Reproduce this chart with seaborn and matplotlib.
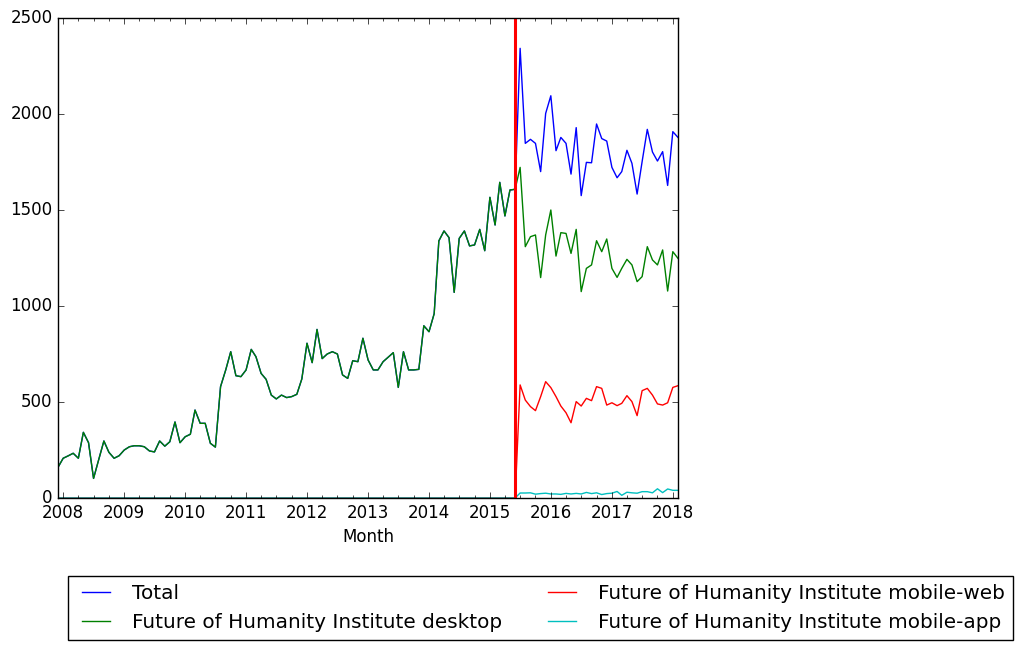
import matplotlib
matplotlib.use("Agg")
import matplotlib.pyplot as plt
import matplotlib.dates as mdates
import numpy as np
import pandas as pd
import seaborn as sns

# ---- data (monthly page views, 2007-12 .. 2018-02) ----
start_month = "2007-12"
split_month = "2015-06"   # vertical marker

desktop_pre = [160, 207, 220, 233, 207, 342, 288, 102, 200, 297, 238, 207,
               220, 250, 267, 272, 272, 267, 245, 240, 297, 270, 293, 396,
               288, 319, 332, 458, 389, 389, 285, 265, 580, 667, 762, 637,
               632, 667, 774, 736, 649, 618, 536, 516, 536, 523, 528, 540,
               620, 806, 705, 878, 726, 750, 762, 750, 641, 623, 715, 710,
               832, 719, 667, 667, 710, 733, 757, 576, 762, 667, 667, 670,
               897, 866, 960, 1339, 1391, 1356, 1071, 1352, 1391, 1313, 1318, 1399,
               1288, 1566, 1422, 1644, 1469, 1604, 1608]

total_post = [2342, 1847, 1868, 1847, 1700, 2003, 2095, 1809, 1878, 1847, 1687, 1929,
              1575, 1748, 1746, 1948, 1872, 1859, 1722, 1668, 1700, 1811, 1743, 1583,
              1752, 1920, 1802, 1755, 1804, 1628, 1908, 1878]
desktop_post = [1722, 1309, 1361, 1370, 1148, 1370, 1500, 1260, 1382, 1378, 1274, 1399,
                1075, 1196, 1214, 1340, 1283, 1349, 1196, 1149, 1196, 1243, 1214, 1127,
                1153, 1309, 1240, 1214, 1292, 1078, 1283, 1248]
mobile_web_post = [589, 510, 476, 455, 528, 606, 575, 528, 479, 444, 392, 502,
                   479, 519, 507, 580, 571, 484, 496, 481, 493, 533, 502, 429,
                   559, 571, 536, 490, 484, 496, 576, 585]
mobile_app_post = [26, 26, 27, 20, 23, 25, 21, 21, 19, 24, 21, 24,
                   21, 29, 23, 27, 18, 23, 25, 34, 14, 30, 27, 25,
                   33, 33, 27, 48, 28, 47, 40, 40]

series_names = ["Total",
                "Future of Humanity Institute desktop",
                "Future of Humanity Institute mobile-web",
                "Future of Humanity Institute mobile-app"]
series_colors = ["b", "g", "r", "c"]

n_pre = len(desktop_pre)
months = pd.date_range(start_month, periods=n_pre + len(total_post), freq="MS")
total = desktop_pre + total_post
desktop = desktop_pre + desktop_post
mobile_web = [0] * n_pre + mobile_web_post
mobile_app = [0] * n_pre + mobile_app_post

df = pd.DataFrame({"Month": months, series_names[0]: total, series_names[1]: desktop,
                   series_names[2]: mobile_web, series_names[3]: mobile_app})

# ---- style (classic matplotlib look) ----
plt.style.use("classic")
plt.rcParams["font.family"] = ["DejaVu Sans"]

fig = plt.figure(figsize=(10.25, 6.5), dpi=100, facecolor="white")
ax = fig.add_axes([58 / 1025, 1 - 498 / 650, 620 / 1025, 480 / 650])

for name, col in zip(series_names, series_colors):
    sns.lineplot(data=df, x="Month", y=name, ax=ax, color=col, linewidth=1.0,
                 label=name, legend=False)

ax.axvline(pd.Timestamp(split_month), color="r", linewidth=2.2)

ax.set_xlim(months[0], months[-1])
ax.set_ylim(0, 2500)
ax.set_yticks([0, 500, 1000, 1500, 2000, 2500])
ax.xaxis.set_major_locator(mdates.YearLocator())
ax.xaxis.set_major_formatter(mdates.DateFormatter("%Y"))
ax.xaxis.set_minor_locator(mdates.MonthLocator(bymonth=[1, 4, 7, 10]))
ax.set_xlabel("Month", fontsize=12)
ax.set_ylabel("")
ax.tick_params(axis="both", which="both", direction="in", top=True, right=True, labelsize=12)
ax.set_facecolor("white")

handles, labels = ax.get_legend_handles_labels()
handles, labels = handles[:4], labels[:4]
order = [0, 2, 1, 3]
fig.legend([handles[0], handles[1], handles[2], handles[3]],
           [labels[0], labels[1], labels[2], labels[3]],
           loc="upper left", bbox_to_anchor=(68 / 1025, 1 - 576 / 650),
           ncol=2, fontsize=14.4, frameon=True, fancybox=False,
           edgecolor="black", borderaxespad=0)

fig.savefig("out.png", dpi=100, facecolor="white")
